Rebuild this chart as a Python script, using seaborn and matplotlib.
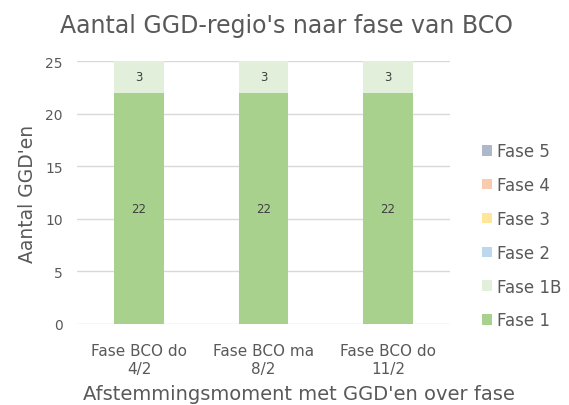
import matplotlib
matplotlib.use("Agg")
import matplotlib.pyplot as plt
import seaborn as sns
import pandas as pd
import numpy as np

momenten = ["Fase BCO do\n4/2", "Fase BCO ma\n8/2", "Fase BCO do\n11/2"]
fasen = ["Fase 1", "Fase 1B", "Fase 2", "Fase 3", "Fase 4", "Fase 5"]
fase1 = [22, 22, 22]
fase1b = [3, 3, 3]
fase2 = [0, 0, 0]
fase3 = [0, 0, 0]
fase4 = [0, 0, 0]
fase5 = [0, 0, 0]
kleuren = ["#A9D18E", "#E2EFDA", "#BDD7EE", "#FFE699", "#F8CBAD", "#ADB9CA"]

sns.set_style("white")
plt.rcParams['font.family'] = ['DejaVu Sans']
grijs = "#595959"

series = [fase1, fase1b, fase2, fase3, fase4, fase5]
cum = np.cumsum(np.array(series), axis=0)

fig = plt.figure(figsize=(5.69, 4.06), dpi=100)
ax = fig.add_axes([0.135, 0.2, 0.656, 0.647])

# draw cumulative totals from the top layer down so lower layers cover them
for i in range(len(fasen) - 1, -1, -1):
    df = pd.DataFrame({"moment": momenten, "waarde": cum[i]})
    sns.barplot(data=df, x="moment", y="waarde", color=kleuren[i], width=0.4,
                saturation=1, ax=ax, label=fasen[i], zorder=2, linewidth=0)

for j in range(len(momenten)):
    onder = 0
    for s in series:
        if s[j] > 0:
            ax.text(j, onder + s[j] / 2, str(s[j]), ha="center", va="center",
                    fontsize=8.5, color="#404040", zorder=3)
        onder += s[j]

ax.set_ylim(0, 25)
ax.set_yticks([0, 5, 10, 15, 20, 25])
ax.set_xlim(-0.5, 2.5)
ax.grid(axis="y", color="#D9D9D9", lw=1, zorder=0)
ax.set_axisbelow(True)
for sp in ax.spines.values():
    sp.set_visible(False)
ax.tick_params(axis="y", length=0, labelsize=10, colors=grijs, pad=10)
ax.tick_params(axis="x", length=0, labelsize=11, colors=grijs, pad=14)
ax.set_xlabel("")
ax.set_ylabel("Aantal GGD'en", fontsize=13.5, color=grijs, labelpad=6)
fig.text(0.525, 0.015, "Afstemmingsmoment met GGD'en over fase", fontsize=14,
         color=grijs, ha="center", va="baseline")
fig.text(0.504, 0.919, "Aantal GGD-regio's naar fase van BCO", fontsize=17,
         color=grijs, ha="center", va="baseline")

handles, labels = ax.get_legend_handles_labels()
ax.legend(handles, labels, loc="center left", bbox_to_anchor=(1.046, 0.335),
          frameon=False, fontsize=12, labelcolor=grijs, handlelength=0.6,
          handleheight=0.6, handletextpad=0.3, labelspacing=0.95)

fig.savefig("out.png", dpi=100)
